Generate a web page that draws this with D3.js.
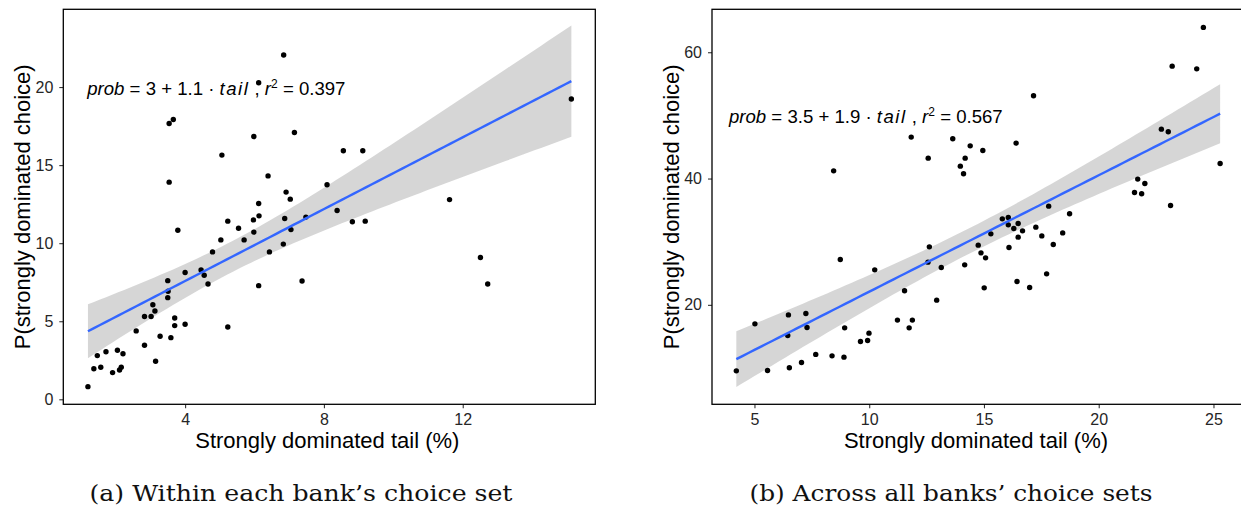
<!DOCTYPE html>
<html>
<head>
<meta charset="utf-8">
<script src="https://cdn.jsdelivr.net/npm/d3@7"></script>
<style>
  body { margin: 0; background: #fff; }
  svg { display: block; }
  .tick text { font-family: "Liberation Sans", Arial, sans-serif; font-size: 16px; fill: #262626; }
  .axis-title { font-family: "Liberation Sans", Arial, sans-serif; font-size: 22px; fill: #000; }
  .eq { font-family: "Liberation Sans", Arial, sans-serif; font-size: 18.6px; fill: #000; }
  .caption { font-family: "DejaVu Serif", serif; font-size: 22px; fill: #111; }
</style>
</head>
<body>
<svg id="chart" width="1241" height="510"></svg>
<script>
// (a) within each bank's choice set
const leftTail = [6.84, 6.12, 3.54, 3.66, 15.13, 5.98, 7.15, 5.06, 8.56, 9.12, 3.54, 6.39, 8.09, 6.91, 7.03, 6.12,
  11.62, 8.38, 6.13, 5.97, 6.87, 7.48, 5.23, 8.82, 9.19, 3.79, 5.54, 7.05, 5.98, 5.03, 5.70, 6.83, 6.43, 4.79,
  4.00, 4.46, 4.55, 4.66, 3.50, 3.51, 3.50, 3.07, 3.13, 2.83, 3.02, 3.70, 3.70, 4.00, 5.23, 2.59, 3.28, 3.59,
  2.83, 3.15, 6.12, 7.37, 12.51, 12.72, 1.47, 1.72, 2.05, 2.21, 1.37, 1.57, 1.91, 2.11, 2.16, 1.20];
const leftProb = [22.05, 20.28, 17.67, 17.92, 19.23, 16.83, 17.09, 15.64, 15.92, 15.92, 13.91, 14.31, 13.74, 13.27,
  12.82, 12.54, 12.79, 12.09, 11.75, 11.49, 11.58, 11.67, 11.41, 11.37, 11.41, 10.83, 10.96, 10.87, 10.71, 10.21,
  10.21, 9.94, 9.44, 9.44, 8.12, 8.29, 7.95, 7.39, 7.60, 6.92, 6.51, 6.06, 5.66, 5.30, 5.30, 5.21, 4.72, 4.81,
  4.63, 4.38, 4.04, 3.95, 3.46, 2.44, 7.28, 7.58, 9.08, 7.39, 2.80, 3.05, 3.14, 2.92, 1.96, 2.05, 1.71, 1.88,
  2.05, 0.81];
const leftFit = [2.98, 1.15]; // intercept, slope of the drawn line
const leftXTicks = [4, 8, 12];
const leftYTicks = [0, 5, 10, 15, 20];
const leftEq = { a: "3", b: "1.1", r2: "0.397" };

// (b) across all banks' choice sets
const rightTail = [24.56, 23.20, 24.27, 17.16, 22.73, 23.03, 11.83, 13.64, 16.40, 14.40, 14.95, 12.57, 14.18, 13.97,
  14.11, 8.45, 25.29, 21.70, 22.01, 21.56, 21.87, 23.13, 17.82, 18.73, 15.80, 16.06, 16.06, 16.49, 16.30, 16.68,
  17.26, 15.30, 16.49, 17.52, 18.43, 14.75, 16.09, 18.02, 12.62, 14.87, 15.07, 8.74, 12.56, 14.16, 13.14, 10.24,
  16.44, 16.99, 15.01, 17.73, 11.54, 12.94, 11.23, 11.88, 11.74, 5.02, 6.48, 7.24, 7.29, 6.45, 8.93, 9.99, 9.62,
  9.93, 7.67, 8.38, 8.90, 7.05, 6.52, 5.57, 4.21];
const rightProb = [63.93, 57.80, 57.37, 53.10, 47.82, 47.40, 46.56, 46.29, 45.61, 45.18, 44.45, 43.23, 43.23, 41.96,
  40.75, 41.22, 42.39, 39.91, 39.22, 37.79, 37.58, 35.74, 35.63, 34.42, 33.62, 33.84, 32.67, 32.89, 32.10, 31.72,
  32.30, 31.24, 30.72, 30.92, 31.39, 29.45, 29.08, 29.56, 29.18, 28.23, 27.44, 27.19, 26.76, 26.33, 25.92, 25.54,
  23.70, 22.75, 22.69, 24.91, 22.22, 20.74, 17.58, 17.58, 16.36, 16.99, 18.41, 18.63, 16.42, 15.15, 16.36, 15.52,
  14.20, 14.36, 12.15, 11.92, 11.72, 10.88, 10.03, 9.61, 9.55];
const rightFit = [3.64, 1.844];
const rightXTicks = [5, 10, 15, 20, 25];
const rightYTicks = [20, 40, 60];
const rightEq = { a: "3.5", b: "1.9", r2: "0.567" };

const xLabel = "Strongly dominated tail (%)";
const yLabel = "P(strongly dominated choice)";
const captions = ["(a) Within each bank\u2019s choice set", "(b) Across all banks\u2019 choice sets"];

const svg = d3.select("#chart");
const T_CRIT = 1.996; // t(0.975, ~70 df)

// fitted line with a 95% confidence band, like geom_smooth(method = "lm")
function fitBand(xs, ys, [a, b]) {
  const n = xs.length;
  const mx = d3.mean(xs);
  const sxx = d3.sum(xs, (x) => (x - mx) ** 2);
  const s = Math.sqrt(d3.sum(xs, (x, i) => (ys[i] - a - b * x) ** 2) / (n - 2));
  const [x0, x1] = d3.extent(xs);
  return d3.range(81).map((k) => {
    const x = x0 + (k / 80) * (x1 - x0);
    const se = s * Math.sqrt(1 / n + (x - mx) ** 2 / sxx);
    const fit = a + b * x;
    return { x, fit, lo: fit - T_CRIT * se, hi: fit + T_CRIT * se };
  });
}

function drawPanel(cfg) {
  const { left, width, top, height } = cfg;
  const g = svg.append("g");

  const x = d3.scaleLinear().domain(cfg.xDomain).range([left, left + width]);
  const y = d3.scaleLinear().domain(cfg.yDomain).range([top + height, top]);

  const pts = cfg.xs.map((d, i) => ({ x: d, y: cfg.ys[i] }));
  const band = fitBand(cfg.xs, cfg.ys, cfg.fit);

  // confidence ribbon
  g.append("path")
    .datum(band)
    .attr("fill", "#999999")
    .attr("fill-opacity", 0.4)
    .attr("d", d3.area().x((d) => x(d.x)).y0((d) => y(d.lo)).y1((d) => y(d.hi)));

  // points
  g.append("g")
    .selectAll("circle")
    .data(pts)
    .join("circle")
    .attr("cx", (d) => x(d.x))
    .attr("cy", (d) => y(d.y))
    .attr("r", 2.7)
    .attr("fill", "#000");

  // fitted line
  g.append("path")
    .datum(band)
    .attr("fill", "none")
    .attr("stroke", "#3366FF")
    .attr("stroke-width", 2.4)
    .attr("d", d3.line().x((d) => x(d.x)).y((d) => y(d.fit)));

  // axes
  g.append("g")
    .attr("transform", `translate(0,${top + height})`)
    .call(d3.axisBottom(x).tickValues(cfg.xTicks).tickSize(4).tickPadding(5).tickFormat(d3.format("d")))
    .call((a) => a.select(".domain").remove())
    .call((a) => a.selectAll(".tick line").attr("stroke", "#333").attr("stroke-width", 1.1));

  g.append("g")
    .attr("transform", `translate(${left},0)`)
    .call(d3.axisLeft(y).tickValues(cfg.yTicks).tickSize(4).tickPadding(6).tickFormat(d3.format("d")))
    .call((a) => a.select(".domain").remove())
    .call((a) => a.selectAll(".tick line").attr("stroke", "#333").attr("stroke-width", 1.1));

  // panel border
  g.append("rect")
    .attr("x", left)
    .attr("y", top)
    .attr("width", width)
    .attr("height", height)
    .attr("fill", "none")
    .attr("stroke", "#000")
    .attr("stroke-width", 1.3);

  // axis titles
  g.append("text")
    .attr("class", "axis-title")
    .attr("text-anchor", "middle")
    .attr("x", left + width / 2 - 2)
    .attr("y", top + height + 44)
    .text(xLabel);

  g.append("text")
    .attr("class", "axis-title")
    .attr("text-anchor", "middle")
    .attr("transform", `translate(${left - 33},${top + height / 2}) rotate(-90)`)
    .text(yLabel);

  // regression equation
  const eq = g.append("text")
    .attr("class", "eq")
    .attr("x", x(cfg.eqAt[0]))
    .attr("y", y(cfg.eqAt[1]));
  eq.append("tspan").attr("font-style", "italic").text("prob");
  eq.append("tspan").text(` = ${cfg.eq.a} + ${cfg.eq.b} \u00b7 `);
  eq.append("tspan").attr("font-style", "italic").attr("letter-spacing", "1.5").text("tail");
  eq.append("tspan").text(" ,  ");
  eq.append("tspan").attr("font-style", "italic").text("r");
  eq.append("tspan").attr("font-size", "12px").attr("dy", "-7").text("2");
  eq.append("tspan").attr("dy", "7").text(` = ${cfg.eq.r2}`);

  // sub-figure caption
  svg.append("text")
    .attr("class", "caption")
    .attr("text-anchor", "middle")
    .attr("x", cfg.captionX)
    .attr("y", 501)
    .attr("textLength", cfg.captionWidth)
    .attr("lengthAdjust", "spacingAndGlyphs")
    .text(cfg.caption);
}

drawPanel({
  left: 63.3, width: 532, top: 9.3, height: 395,
  xDomain: [0.49, 15.82], yDomain: [-0.32, 24.98],
  xs: leftTail, ys: leftProb, fit: leftFit,
  xTicks: leftXTicks, yTicks: leftYTicks,
  eq: leftEq, eqAt: [1.18, 19.5],
  caption: captions[0], captionX: 301, captionWidth: 423
});

drawPanel({
  left: 712, width: 532, top: 9.3, height: 395,
  xDomain: [3.15, 26.33], yDomain: [4.25, 66.8],
  xs: rightTail, ys: rightProb, fit: rightFit,
  xTicks: rightXTicks, yTicks: rightYTicks,
  eq: rightEq, eqAt: [3.89, 48.75],
  caption: captions[1], captionX: 951, captionWidth: 403
});
</script>
</body>
</html>
